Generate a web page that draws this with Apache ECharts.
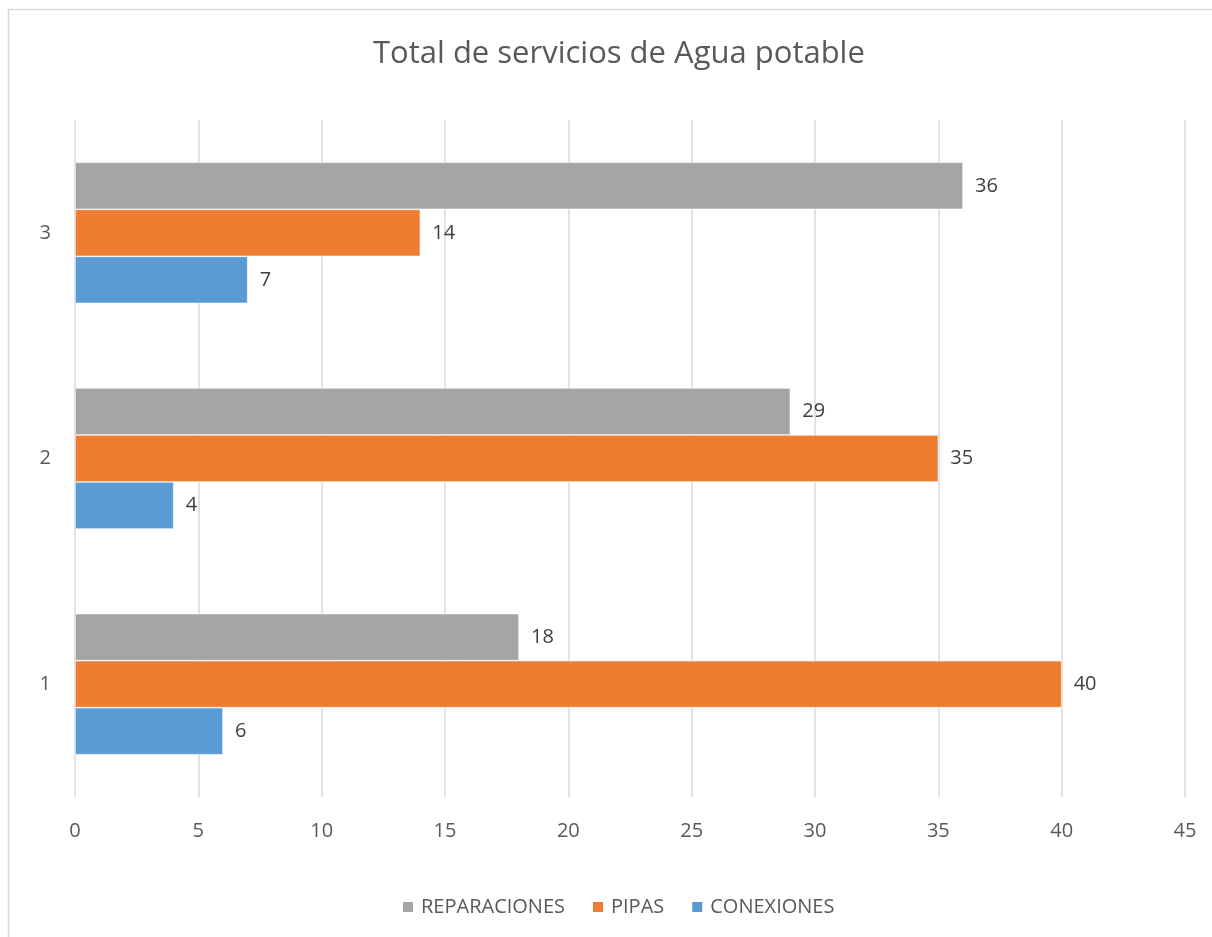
<!DOCTYPE html>
<html>
<head>
<meta charset="utf-8">
<script src="https://cdn.jsdelivr.net/npm/echarts@6/dist/echarts.min.js"></script>
<style>
  html, body { margin: 0; padding: 0; background: #fff; }
  #chart { width: 1212px; height: 937px; }
</style>
</head>
<body>
<div id="chart"></div>
<script>
const categories = ['1', '2', '3'];
const conexiones = [6, 4, 7];
const pipas = [40, 35, 14];
const reparaciones = [18, 29, 36];
const xTicks = [0, 5, 10, 15, 20, 25, 30, 35, 40, 45];

const font = '"Open Sans", "Noto Sans", sans-serif';
const textColor = '#595959';

const chart = echarts.init(document.getElementById('chart'));

function barSerie(name, data, color) {
    return {
        name: name,
        type: 'bar',
        data: data,
        barGap: '0%',
        barCategoryGap: '37.5%',
        itemStyle: { color: color, borderColor: '#fff', borderWidth: 0.6 },
        label: {
            show: true,
            position: 'right',
            distance: 12,
            color: '#404040',
            fontSize: 20,
            fontFamily: font
        }
    };
}

chart.setOption({
    animation: false,
    title: {
        text: 'Total de servicios de Agua potable',
        left: 368,
        top: 34,
        textStyle: { fontSize: 31, fontWeight: 'normal', color: textColor, fontFamily: font }
    },
    legend: {
        top: 892,
        left: 396,
        itemWidth: 12,
        itemHeight: 12,
        itemGap: 26,
        icon: 'rect',
        data: ['REPARACIONES', 'PIPAS', 'CONEXIONES'],
        textStyle: { fontSize: 20, color: textColor, fontFamily: font, padding: [0, 0, 0, 2] }
    },
    grid: { left: 75, right: 27, top: 120, bottom: 140, containLabel: false },
    xAxis: {
        type: 'value',
        min: xTicks[0],
        max: xTicks[xTicks.length - 1],
        interval: 5,
        axisLine: { show: false },
        axisTick: { show: false },
        splitLine: { lineStyle: { color: '#D9D9D9', width: 1.5 } },
        axisLabel: { color: textColor, fontSize: 20, fontFamily: font, margin: 24 }
    },
    yAxis: {
        type: 'category',
        data: categories,
        axisLine: { show: false },
        axisTick: { show: false },
        axisLabel: { color: textColor, fontSize: 20, fontFamily: font, margin: 24 }
    },
    graphic: [{
        type: 'rect',
        shape: { x: 8.5, y: 9.5, width: 1300, height: 1000 },
        style: { fill: 'none', stroke: '#D9D9D9', lineWidth: 1.5 },
        silent: true
    }],
    series: [
        barSerie('REPARACIONES', reparaciones, '#A5A5A5'),
        barSerie('PIPAS', pipas, '#ED7D31'),
        barSerie('CONEXIONES', conexiones, '#5B9BD5')
    ]
});
</script>
</body>
</html>
